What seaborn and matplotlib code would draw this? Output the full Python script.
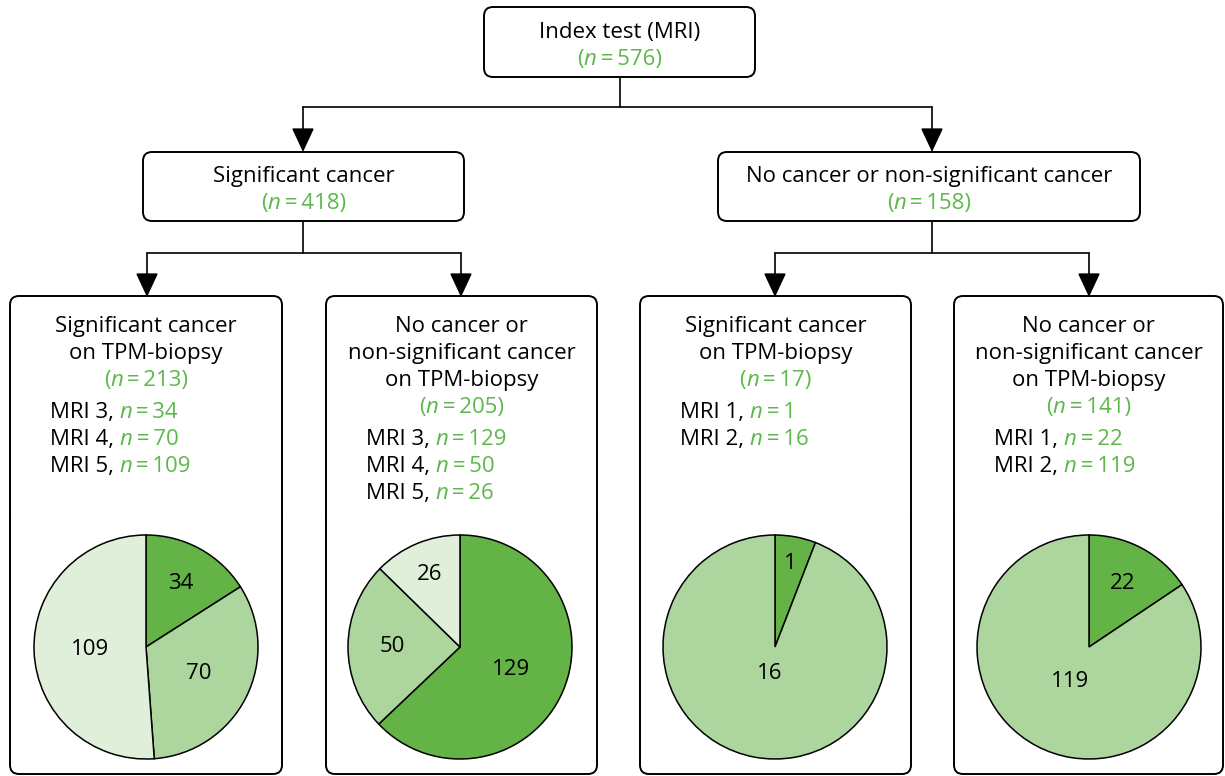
import matplotlib
matplotlib.use("Agg")
import numpy as np
import matplotlib.pyplot as plt
import seaborn as sns
from matplotlib.patches import FancyBboxPatch

# 数据
top_label = "Index test (MRI)"
top_n = 576
mid_labels = ["Significant cancer", "No cancer or non-significant cancer"]
mid_n = [418, 158]
leaf_titles = [
    ["Significant cancer", "on TPM-biopsy"],
    ["No cancer or", "non-significant cancer", "on TPM-biopsy"],
    ["Significant cancer", "on TPM-biopsy"],
    ["No cancer or", "non-significant cancer", "on TPM-biopsy"],
]
leaf_n = [213, 205, 17, 141]
leaf_grades = [["MRI 3", "MRI 4", "MRI 5"], ["MRI 3", "MRI 4", "MRI 5"],
               ["MRI 1", "MRI 2"], ["MRI 1", "MRI 2"]]
leaf_counts = [[34, 70, 109], [129, 50, 26], [1, 16], [22, 119]]

# 样式
sns.set_theme(style="white")
plt.rcParams["font.family"] = ["Open Sans", "DejaVu Sans"]
plt.rcParams["text.color"] = "black"
GREEN_TXT = "#5db84a"
pal = sns.color_palette(["#63b346", "#add59e", "#e0efd9"])
FS = 16
W, H = 1225, 776
EQ = "\u2009=\u2009"

fig = plt.figure(figsize=(W / 100, H / 100), dpi=100)
ax = fig.add_axes([0, 0, 1, 1])
renderer = fig.canvas.get_renderer()


def Y(y):
    return H - y


def box(x0, y0, x1, y1):
    ax.add_patch(FancyBboxPatch((x0, Y(y1)), x1 - x0, y1 - y0,
                                boxstyle="round,pad=0,rounding_size=9",
                                fc="white", ec="black", lw=1.4, zorder=2))


def rich(x, yb, parts, ha="center"):
    texts = []
    for s, c, st in parts:
        texts.append(ax.text(0, Y(yb), s, color=c, style=st, fontsize=FS,
                             va="baseline", ha="left", zorder=6))
    widths = [t.get_window_extent(renderer).width for t in texts]
    x0 = x - sum(widths) / 2 if ha == "center" else x
    for t, w in zip(texts, widths):
        t.set_x(x0)
        x0 += w


def n_parts(n, paren=True):
    if paren:
        return [("(", GREEN_TXT, "normal"), ("n", GREEN_TXT, "italic"),
                (f"{EQ}{n})", GREEN_TXT, "normal")]
    return [("n", GREEN_TXT, "italic"), (f"{EQ}{n}", GREEN_TXT, "normal")]


def line(x0, y0, x1, y1):
    ax.plot([x0, x1], [Y(y0), Y(y1)], color="black", lw=1.2, zorder=1)


def arrow(x, y0, y1):
    ax.annotate("", xy=(x, Y(y1)), xytext=(x, Y(y0)),
                arrowprops=dict(arrowstyle="-|>,head_length=0.75,head_width=0.35",
                                color="black", lw=1.2, shrinkA=0, shrinkB=0,
                                mutation_scale=20), zorder=3)


# 第一层
box(484, 7, 755, 77)
ax.text(619.5, Y(38), top_label, ha="center", va="baseline", fontsize=FS, zorder=6)
rich(619.5, 65, n_parts(top_n))

# 连线
line(619.5, 77, 619.5, 107)
line(303, 107, 932, 107)
arrow(303, 107, 152)
arrow(932, 107, 152)

# 第二层
mid_boxes = [(143, 464), (718, 1140)]
for (x0, x1), lab, n in zip(mid_boxes, mid_labels, mid_n):
    box(x0, 152, x1, 221)
    ax.text((x0 + x1) / 2, Y(182), lab, ha="center", va="baseline", fontsize=FS, zorder=6)
    rich((x0 + x1) / 2, 209, n_parts(n))

line(303, 221, 303, 253)
line(147, 253, 461, 253)
arrow(147, 253, 297)
arrow(461, 253, 297)
line(932, 221, 932, 253)
line(775, 253, 1089, 253)
arrow(775, 253, 297)
arrow(1089, 253, 297)

# 第三层 + 饼图
leaf_x = [(10, 282), (326, 597), (640, 911), (954, 1223)]
pie_cx = [146, 460, 775, 1089]
label_r = [[0.65, 0.53, 0.5], [0.5, 0.6, 0.7], [0.76, 0.24], [0.64, 0.35]]
R = 112
for i, (x0, x1) in enumerate(leaf_x):
    box(x0, 296, x1, 774)
    line(x0, 516, x1, 516)
    cx = (x0 + x1) / 2
    yb = 332
    for t in leaf_titles[i]:
        ax.text(cx, Y(yb), t, ha="center", va="baseline", fontsize=FS, zorder=6)
        yb += 27
    rich(cx, yb, n_parts(leaf_n[i]))
    yb += 32
    for g, c in zip(leaf_grades[i], leaf_counts[i]):
        rich(x0 + 40, yb, [(g + ", ", "black", "normal")] + n_parts(c, paren=False),
             ha="left")
        yb += 27

    counts = leaf_counts[i]
    wedges, _ = ax.pie(counts, colors=pal[:len(counts)], startangle=90,
                       counterclock=False, center=(pie_cx[i], Y(647)), radius=R,
                       frame=True,
                       wedgeprops=dict(edgecolor="black", linewidth=1.1, zorder=4))
    for w, c, d in zip(wedges, counts, label_r[i]):
        ang = np.deg2rad((w.theta1 + w.theta2) / 2)
        ax.text(pie_cx[i] + d * R * np.cos(ang), Y(647) + d * R * np.sin(ang),
                str(c), ha="center", va="center", fontsize=FS, zorder=6)

ax.set_xlim(0, W)
ax.set_ylim(0, H)
ax.set_aspect("auto")
ax.axis("off")
fig.savefig("out.png", dpi=100)
